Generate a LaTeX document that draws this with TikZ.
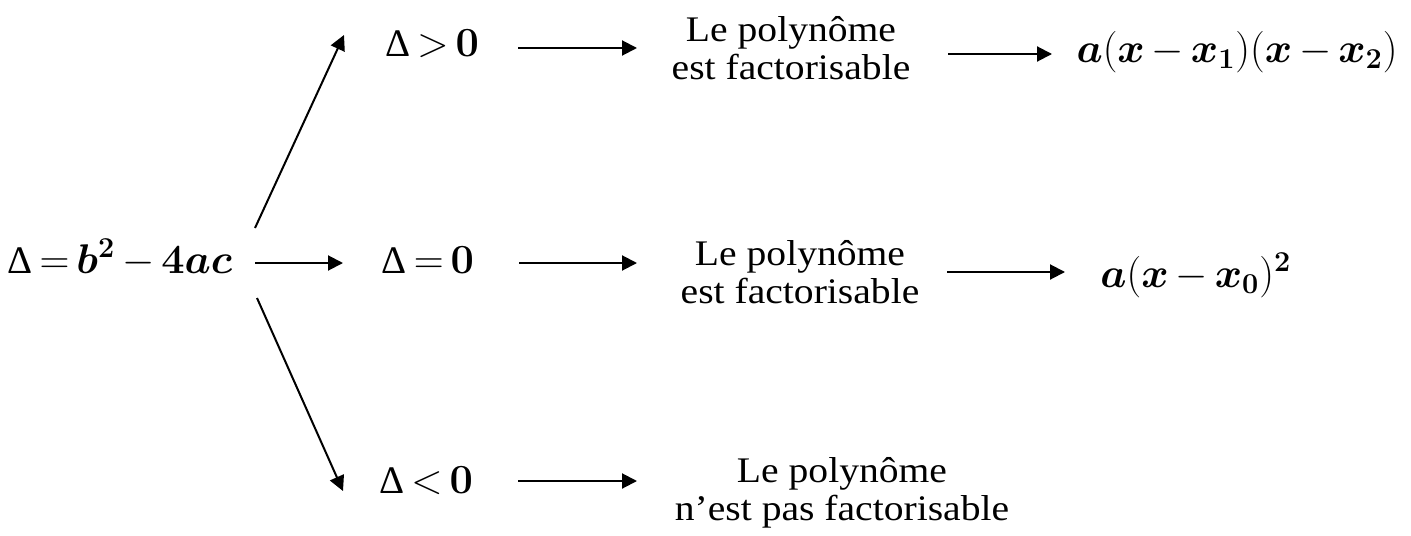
\documentclass[tikz,border=0pt]{standalone}
\usepackage{amsmath}
\usepackage{bm}
\usepackage{graphicx}
\usepackage{fontspec}
\setmainfont{Liberation Serif}
\usetikzlibrary{arrows.meta,calc}

% upright serif Delta taken from the text font
\newcommand{\Dlt}{\text{Δ}}
% tighter spacing around relations and binary operators
\newcommand{\tightmath}{\thickmuskip=3mu\relax\medmuskip=3mu\relax}
% centred two-line block, slightly widened; its baseline is the first line
\newcommand{\twolines}[1]{\scalebox{1.1}[1]{\begin{tabular}[t]{@{}c@{}}#1\end{tabular}}}

\begin{document}
\begin{tikzpicture}[x=0.5pt,y=-0.5pt,
  mathnode/.style={inner sep=0pt,font=\fontsize{19.5}{23}\selectfont\tightmath},
  textnode/.style={inner sep=0pt,font=\fontsize{18}{19}\selectfont},
  arr/.style={line width=1pt,-{Triangle[length=7.5pt,width=7.5pt]}}]
\useasboundingbox (0,0) rectangle (1411,535);

% discriminant and the three cases
\node[mathnode,anchor=base] (D)    at (120,273) {$\Dlt = \bm{b}^{\bm{2}} - \bm{4}\bm{a}\bm{c}$};
\node[mathnode,anchor=base] (gt)   at (432,57)  {$\Dlt > \bm{0}$};
\node[mathnode,anchor=base] (zero) at (428,273) {$\Dlt = \bm{0}$};
\node[mathnode,anchor=base] (lt)   at (426,493) {$\Dlt < \bm{0}$};

% conclusions
\node[textnode,anchor=base] (ptop) at (791,42)  {\twolines{Le polynôme\\est factorisable}};
\node[textnode,anchor=base] (pmid) at (800,265) {\twolines{Le polynôme\\est factorisable}};
\node[textnode,anchor=base] (pbot) at (842,482) {\twolines{Le polynôme\\n’est pas factorisable}};

% factorised forms
\node[mathnode,anchor=base] (ftop) at (1237,62)
  {$\bm{a}(\bm{x} - \bm{x}_{\bm{1}})(\bm{x} - \bm{x}_{\bm{2}})$};
\node[mathnode,anchor=base west] (fmid) at (1100,287)
  {$\bm{a}(\bm{x} - \bm{x}_{\bm{0}})^{\bm{2}}$};

% branches out of the discriminant
\draw[arr] ($(D.base)+(135,-45)$) -- ($(gt.base)+(-88,-22)$);
\draw[arr] ($(D.base)+(135,-10)$) -- ($(zero.base)+(-85,-10)$);
\draw[arr] ($(D.base)+(137,25)$)  -- ($(lt.base)+(-83,-2)$);

% case -> conclusion
\draw[arr] ($(gt.base)+(86,-9)$)    -- ($(ptop.base)+(-154,6)$);
\draw[arr] ($(zero.base)+(91,-10)$) -- ($(pmid.base)+(-163,-2)$);
\draw[arr] ($(lt.base)+(92,-12)$)   -- ($(pbot.base)+(-205,-1)$);

% conclusion -> factorised form
\draw[arr] ($(ptop.base)+(157,12)$) -- ($(ftop.base)+(-185,-8)$);
\draw[arr] ($(pmid.base)+(147,7)$)  -- ($(fmid.base west)+(-35,-15)$);
\end{tikzpicture}
\end{document}
